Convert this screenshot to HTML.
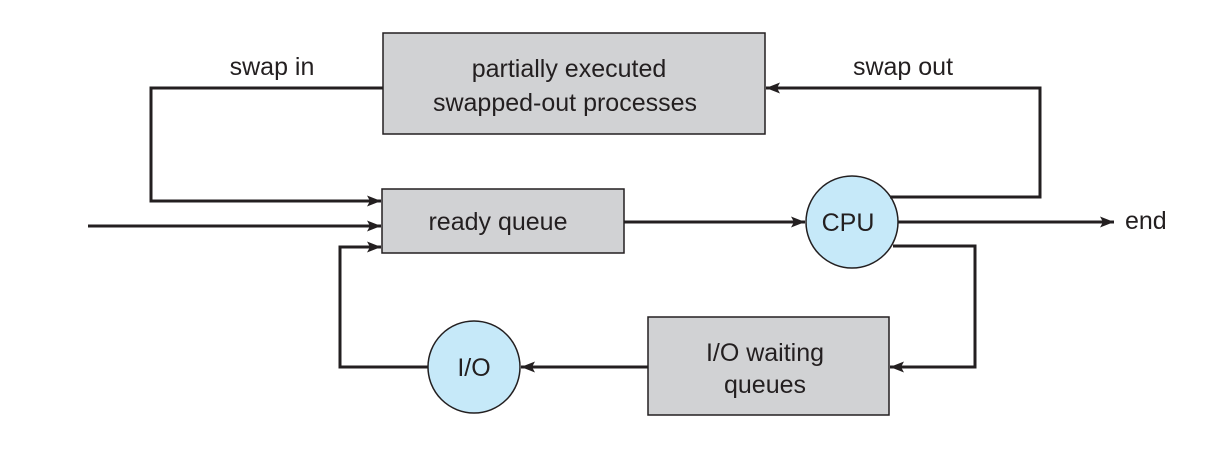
<!DOCTYPE html>
<html><head><style>body{margin:0;background:#fff}svg{display:block}text{font-family:"Liberation Sans",sans-serif;font-size:25px;fill:#231f20}</style></head><body>
<svg width="1207" height="469" viewBox="0 0 1207 469">
<defs><marker id="a" markerWidth="14" markerHeight="11" refX="14" refY="5.5" orient="auto" markerUnits="userSpaceOnUse"><path d="M0,0 L14,5.5 L0,11 L3,5.5 Z" fill="#231f20"/></marker></defs>
<g fill="#d1d2d4" stroke="#231f20" stroke-width="1.5">
<rect x="383" y="33" width="382" height="101"/>
<rect x="382" y="189" width="242" height="64"/>
<rect x="648" y="317" width="241" height="98"/>
</g>
<g fill="#c6e9f9" stroke="#231f20" stroke-width="1.5">
<circle cx="852" cy="222" r="46"/>
<circle cx="474" cy="367" r="46"/>
</g>
<g fill="none" stroke="#231f20" stroke-width="3">
<polyline points="383,88 151,88 151,201 381,201" marker-end="url(#a)"/>
<line x1="88" y1="226" x2="381" y2="226" marker-end="url(#a)"/>
<polyline points="428,367 340,367 340,247 381,247" marker-end="url(#a)"/>
<line x1="624" y1="222" x2="805" y2="222" marker-end="url(#a)"/>
<polyline points="890,197 1040,197 1040,88 766,88" marker-end="url(#a)"/>
<line x1="898" y1="222" x2="1114" y2="222" marker-end="url(#a)"/>
<polyline points="893,246 975,246 975,367 890,367" marker-end="url(#a)"/>
<line x1="648" y1="367" x2="521" y2="367" marker-end="url(#a)"/>
</g>
<text x="272" y="75" text-anchor="middle">swap in</text>
<text x="903" y="75" text-anchor="middle">swap out</text>
<text x="569" y="77" text-anchor="middle">partially executed</text>
<text x="565" y="111" text-anchor="middle">swapped-out processes</text>
<text x="498" y="230" text-anchor="middle">ready queue</text>
<text x="848" y="231" text-anchor="middle">CPU</text>
<text x="1125" y="229">end</text>
<text x="474" y="376" text-anchor="middle">I/O</text>
<text x="765" y="361" text-anchor="middle">I/O waiting</text>
<text x="765" y="393" text-anchor="middle">queues</text>
</svg>
</body></html>
